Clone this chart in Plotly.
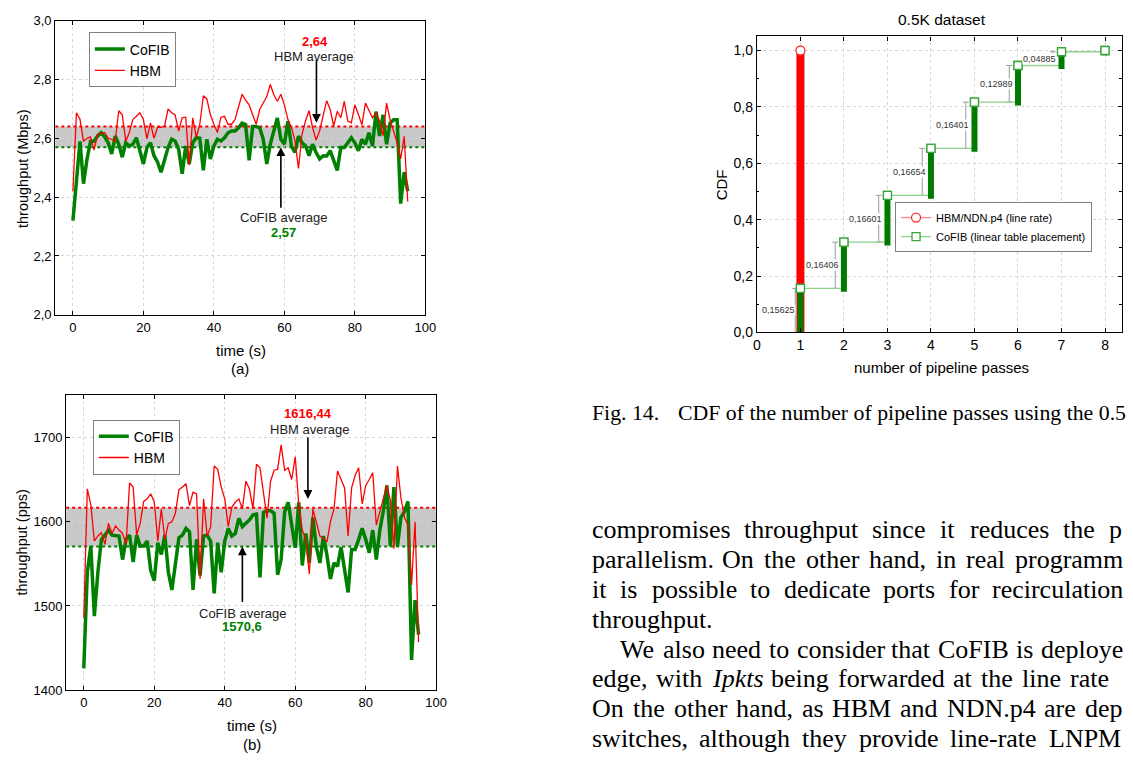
import plotly.graph_objects as go

W, H = 1133, 761

# ---------------- data ----------------
time_s = list(range(96))

cofib_mbps = [2.32, 2.47, 2.59, 2.446, 2.53, 2.59, 2.59, 2.608, 2.619, 2.605,
              2.585, 2.547, 2.608, 2.58, 2.536, 2.585, 2.574, 2.58, 2.602, 2.558,
              2.513, 2.569, 2.585, 2.541, 2.52, 2.485, 2.525, 2.569, 2.597, 2.591,
              2.563, 2.48, 2.574, 2.513, 2.585, 2.602, 2.6, 2.491, 2.597, 2.53,
              2.574, 2.597, 2.591, 2.602, 2.619, 2.625, 2.625, 2.636, 2.652, 2.647,
              2.525, 2.64, 2.64, 2.636, 2.597, 2.513, 2.58, 2.624, 2.669, 2.597,
              2.58, 2.658, 2.574, 2.552, 2.608, 2.585, 2.575, 2.541, 2.58, 2.552,
              2.53, 2.541, 2.54, 2.558, 2.525, 2.491, 2.569, 2.569, 2.585, 2.602,
              2.585, 2.558, 2.597, 2.58, 2.619, 2.574, 2.691, 2.608, 2.68, 2.58,
              2.652, 2.663, 2.663, 2.378, 2.485, 2.42]

hbm_mbps = [2.42, 2.687, 2.665, 2.59, 2.60, 2.605, 2.56, 2.614, 2.617, 2.62,
            2.60, 2.597, 2.59, 2.694, 2.68, 2.59, 2.62, 2.664, 2.675, 2.687,
            2.664, 2.598, 2.653, 2.60, 2.637, 2.637, 2.642, 2.70, 2.687, 2.68,
            2.625, 2.67, 2.672, 2.509, 2.67, 2.603, 2.648, 2.745, 2.734, 2.68,
            2.648, 2.62, 2.672, 2.675, 2.648, 2.648, 2.664, 2.703, 2.75, 2.73,
            2.714, 2.68, 2.648, 2.698, 2.72, 2.742, 2.783, 2.748, 2.726, 2.75,
            2.714, 2.664, 2.637, 2.592, 2.498, 2.614, 2.659, 2.694, 2.637, 2.594,
            2.626, 2.681, 2.728, 2.698, 2.642, 2.692, 2.67, 2.726, 2.659, 2.653,
            2.714, 2.681, 2.646, 2.72, 2.694, 2.67, 2.687, 2.659, 2.609, 2.72,
            2.663, 2.62, 2.585, 2.53, 2.607, 2.385]

cofib_pps = [1426, 1540, 1571, 1488, 1540, 1579, 1584, 1590, 1584, 1584,
             1583, 1555, 1579, 1584, 1552, 1584, 1571, 1571, 1577, 1542,
             1530, 1575, 1561, 1584, 1540, 1519, 1553, 1581, 1584, 1592,
             1588, 1519, 1579, 1536, 1583, 1584, 1577, 1515, 1575, 1540,
             1577, 1592, 1583, 1586, 1604, 1594, 1598, 1602, 1608, 1609,
             1534, 1611, 1613, 1613, 1610, 1537, 1555, 1612, 1623, 1594,
             1569, 1623, 1548, 1586, 1551, 1605, 1570, 1551, 1583, 1560,
             1532, 1551, 1547, 1570, 1545, 1516, 1567, 1567, 1579, 1592,
             1579, 1563, 1590, 1555, 1590, 1613, 1643, 1571, 1641, 1571,
             1605, 1612, 1624, 1436, 1507, 1466]

hbm_pps = [1486, 1639, 1620, 1577, 1583, 1587, 1573, 1598, 1586, 1595,
           1590, 1586, 1573, 1646, 1641, 1584, 1598, 1624, 1627, 1633,
           1623, 1577, 1615, 1579, 1598, 1600, 1610, 1638, 1641, 1645,
           1619, 1635, 1633, 1532, 1627, 1583, 1594, 1666, 1662, 1641,
           1627, 1594, 1617, 1623, 1627, 1615, 1648, 1639, 1615, 1668,
           1664, 1633, 1604, 1648, 1661, 1662, 1691, 1661, 1664, 1650,
           1677, 1620, 1590, 1578, 1538, 1615, 1600, 1583, 1580, 1576,
           1600, 1615, 1660, 1650, 1640, 1583, 1640, 1655, 1664, 1621,
           1643, 1650, 1658, 1596, 1612, 1630, 1643, 1625, 1568, 1666,
           1628, 1605, 1596, 1525, 1600, 1457]

hbm_avg_mbps, cofib_avg_mbps = 2.64, 2.57
hbm_avg_pps, cofib_avg_pps = 1616.44, 1570.6

passes = [1, 2, 3, 4, 5, 6, 7, 8]
cofib_pmf = [0.15625, 0.16406, 0.16601, 0.16654, 0.16401, 0.12989, 0.04885, 0.00439]
hbm_passes = [1]
hbm_cdf = [1.0]

# ---------------- helpers ----------------
def px(x):
    return x / W


def py(y):
    return 1 - y / H


def fmt(v):
    return str(v).replace(".", ",")


cofib_cdf = []
acc = 0.0
for p in cofib_pmf:
    acc += p
    cofib_cdf.append(min(acc, 1.0))
prev_cdf = [0.0] + cofib_cdf[:-1]

SANS = "Liberation Sans"
SERIF = "Liberation Serif"
GREEN = "#008000"
RED = "#ff0000"

fig = go.Figure()

# ---------------- plot (a) ----------------
fig.add_trace(go.Scatter(x=time_s, y=cofib_mbps, mode="lines", name="CoFIB",
                         line=dict(color=GREEN, width=3.5), xaxis="x", yaxis="y",
                         legend="legend"))
fig.add_trace(go.Scatter(x=time_s, y=hbm_mbps, mode="lines", name="HBM",
                         line=dict(color=RED, width=1.3), xaxis="x", yaxis="y",
                         legend="legend"))

# ---------------- plot (b) ----------------
fig.add_trace(go.Scatter(x=time_s, y=cofib_pps, mode="lines", name="CoFIB",
                         line=dict(color=GREEN, width=3.5), xaxis="x2", yaxis="y2",
                         legend="legend2"))
fig.add_trace(go.Scatter(x=time_s, y=hbm_pps, mode="lines", name="HBM",
                         line=dict(color=RED, width=1.3), xaxis="x2", yaxis="y2",
                         legend="legend2"))

# ---------------- CDF plot ----------------
LIGHT_GREEN = "#8fd18f"
DARK_GREEN = "#007a00"
MARK_GREEN = "#3aa63a"

bracket_off = [0.12] + [0.2] * 6
fig.add_trace(go.Scatter(
    x=[passes[i] - bracket_off[i] for i in range(7)], y=prev_cdf[:7],
    mode="markers", marker=dict(size=1, opacity=0), showlegend=False,
    error_y=dict(type="data", symmetric=False, array=cofib_pmf[:7],
                 arrayminus=[0] * 7, color="#9a9a9a", thickness=1, width=3),
    xaxis="x3", yaxis="y3", hoverinfo="skip"))

fig.add_trace(go.Scatter(x=[hbm_passes[0], hbm_passes[0]], y=[0, hbm_cdf[0]],
                         mode="lines", line=dict(color=RED, width=8),
                         showlegend=False, xaxis="x3", yaxis="y3"))
fig.add_trace(go.Scatter(x=hbm_passes, y=hbm_cdf, mode="lines+markers",
                         name="HBM/NDN.p4 (line rate)",
                         line=dict(color="#ff8a8a", width=1.3),
                         marker=dict(symbol="circle", size=9, color="white",
                                     line=dict(color="#ff3030", width=1.3)),
                         xaxis="x3", yaxis="y3", legend="legend3"))
fig.add_trace(go.Scatter(x=passes, y=cofib_cdf, mode="lines+markers",
                         name="CoFIB (linear table placement)",
                         line=dict(color=LIGHT_GREEN, width=1.3, shape="hv"),
                         marker=dict(symbol="square", size=8, color="white",
                                     line=dict(color=MARK_GREEN, width=1.3)),
                         xaxis="x3", yaxis="y3", legend="legend3"))
bx, by = [], []
for k, lo, hi in zip(passes, prev_cdf, cofib_cdf):
    bx += [k, k, None]
    by += [max(lo - 0.012, 0), hi, None]
fig.add_trace(go.Scatter(x=bx, y=by, mode="lines",
                         line=dict(color=DARK_GREEN, width=6),
                         showlegend=False, xaxis="x3", yaxis="y3"))
fig.add_trace(go.Scatter(x=passes, y=cofib_cdf, mode="markers",
                         marker=dict(symbol="square", size=8, color="white",
                                     line=dict(color=MARK_GREEN, width=1.3)),
                         showlegend=False, xaxis="x3", yaxis="y3"))

# ---------------- axes ----------------
axis_common = dict(showline=True, linecolor="black", linewidth=1.2, mirror="ticks",
                   ticks="inside", ticklen=4, tickcolor="black", tickwidth=1,
                   showgrid=True, gridcolor="#d6d6d6", griddash="dot", gridwidth=1,
                   zeroline=False, tickfont=dict(family=SANS, size=13, color="black"))

fig.update_layout(
    xaxis=dict(axis_common, domain=[px(52), px(427)], range=[-5, 100], dtick=20,
               tick0=0, anchor="y"),
    yaxis=dict(axis_common, domain=[py(314), py(14)], range=[2.0, 3.0], dtick=0.2,
               tick0=2.0, tickformat=".1f", anchor="x"),
    xaxis2=dict(axis_common, domain=[px(63), px(438)], range=[-5, 100], dtick=20,
                tick0=0, anchor="y2"),
    yaxis2=dict(axis_common, domain=[py(697), py(396)], range=[1400, 1750], dtick=100,
                tick0=1400, tickformat="d", anchor="x2"),
    xaxis3=dict(axis_common, domain=[px(763), 1.0], range=[0, 8.39], dtick=1,
                tick0=0, anchor="y3", tickfont=dict(family=SANS, size=14, color="black")),
    yaxis3=dict(axis_common, domain=[py(332), py(30)], range=[0, 1.05], dtick=0.2,
                tick0=0, tickformat=".1f", anchor="x3",
                tickfont=dict(family=SANS, size=14, color="black"),
                minor=dict(dtick=0.1, ticks="inside", ticklen=2.5, tickcolor="black",
                           showgrid=False)),
)

# ---------------- shapes (average bands) ----------------
shapes = []
for (yr, xr, lo, hi) in [("y", "x", cofib_avg_mbps, hbm_avg_mbps),
                         ("y2", "x2", cofib_avg_pps, hbm_avg_pps)]:
    shapes.append(dict(type="rect", xref=xr + " domain", yref=yr, x0=0, x1=1,
                       y0=lo, y1=hi, fillcolor="#c8c8c8", line=dict(width=0),
                       layer="below"))
    shapes.append(dict(type="line", xref=xr + " domain", yref=yr, x0=0, x1=1,
                       y0=hi, y1=hi, line=dict(color=RED, width=2, dash="dot"),
                       layer="below"))
    shapes.append(dict(type="line", xref=xr + " domain", yref=yr, x0=0, x1=1,
                       y0=lo, y1=lo, line=dict(color=GREEN, width=2, dash="dot"),
                       layer="below"))

# ---------------- annotations ----------------
ann = []


def ptext(text, x, y, size, color="black", angle=0, family=SANS, xanchor="center",
          yanchor="middle"):
    ann.append(dict(text=text, x=px(x), y=py(y), xref="paper", yref="paper",
                    showarrow=False, textangle=angle, xanchor=xanchor, yanchor=yanchor,
                    font=dict(family=family, size=size, color=color)))


ptext("throughput (Mbps)", 18.5, 165, 14.5, angle=-90)
ptext("time (s)", 240, 350, 15)
ptext("(a)", 239, 369, 15)
ptext("throughput (pps)", 18.5, 546, 14.5, angle=-90)
ptext("time (s)", 251, 733, 15)
ptext("(b)", 251.7, 752, 15)
ptext("0.5K dataset", 951, 12.5, 15.5)
ptext("CDF", 727.5, 181, 15, angle=-90)
ptext("number of pipeline passes", 950.5, 368, 15)

ptext("<b>" + fmt(hbm_avg_mbps) + "</b>", 315, 35, 13, color=RED)
ptext("HBM average", 313.5, 50, 13, color="#222222")
ptext("CoFIB average", 283.5, 215, 13, color="#222222")
ptext("<b>" + fmt(cofib_avg_mbps) + "</b>", 283.5, 230.5, 13, color=GREEN)
ptext("<b>" + fmt(hbm_avg_pps) + "</b>", 308.5, 415, 13, color=RED)
ptext("HBM average", 309.5, 431, 13, color="#222222")
ptext("CoFIB average", 241.5, 618.5, 13, color="#222222")
ptext("<b>" + fmt(cofib_avg_pps) + "</b>", 241.5, 631.5, 13, color=GREEN)

for (xr, yr, x, y, ay) in [("x", "y", 69.1, 2.653, -64),
                           ("x", "y", 59.0, cofib_avg_mbps, 62),
                           ("x2", "y2", 63.6, 1627, -63),
                           ("x2", "y2", 45.0, cofib_avg_pps, 57)]:
    ann.append(dict(text="", x=x, y=y, xref=xr, yref=yr, ax=0, ay=ay,
                    showarrow=True, arrowhead=2, arrowsize=1.1, arrowwidth=1.6,
                    arrowcolor="black"))

for i in range(7):
    ann.append(dict(text=fmt(cofib_pmf[i]), x=passes[i] - 0.5,
                    y=(prev_cdf[i] + cofib_cdf[i]) / 2, xref="x3", yref="y3",
                    showarrow=False, bgcolor="white", borderpad=0,
                    font=dict(family=SANS, size=9, color="#333333")))

# ---------------- paper text (caption + body, cropped as in the page) ----------------
ptext("Fig. 14.", 594, 414.5, 21.8, family=SERIF, xanchor="left")
ptext("CDF of the number of pipeline passes using the 0.5", 681.5, 414.5,
      21.8, family=SERIF, xanchor="left")

body_lines = [
    (533.0, [("compromises", 595.8), ("throughput", 750.0), ("since", 879.6),
             ("it", 948.5), ("reduces", 978.5), ("the", 1073.4), ("p", 1119.5)]),
    (563.5, [("parallelism.", 595.8), ("On", 728.0), ("the", 770.3), ("other", 812.6),
             ("hand,", 876.5), ("in", 944.0), ("real", 974.7), ("programm", 1024.2)]),
    (594.0, [("it", 595.8), ("is", 624.6), ("possible", 656.2), ("to", 755.7),
             ("dedicate", 790.2), ("ports", 891.1), ("for", 957.4),
             ("recirculation", 1001.5)]),
    (624.5, [("throughput.", 595.8)]),
    (655.0, [("We", 623.9), ("also", 668.0), ("need", 717.9), ("to", 775.0),
             ("consider", 803.2), ("that", 899.3), ("CoFIB", 946.3), ("is", 1025.1),
             ("deploye", 1050.4)]),
    (685.5, [("edge,", 595.8), ("with", 661.2), ("<i>Ipkts</i>", 717.2),
             ("being", 777.5), ("forwarded", 845.1), ("at", 961.7), ("the", 990.3),
             ("line", 1031.9), ("rate", 1080.7)]),
    (716.0, [("On", 595.8), ("the", 637.2), ("other", 678.6), ("hand,", 741.6),
             ("as", 808.2), ("HBM", 839.5), ("and", 908.3), ("NDN.p4", 955.4),
             ("are", 1053.8), ("dep", 1095.1)]),
    (746.3, [("switches,", 595.8), ("although", 704.8), ("they", 808.8),
             ("provide", 866.6), ("line-rate", 959.0), ("LNPM", 1058.6)]),
]
for yline, words in body_lines:
    for w, xw in words:
        ptext(w, xw - 2, yline, 26, family=SERIF, xanchor="left")

# ---------------- legends & layout ----------------
leg_common = dict(bgcolor="white", bordercolor="#808080", borderwidth=1,
                  xanchor="left", yanchor="top", tracegroupgap=0, itemwidth=30)

fig.update_layout(
    width=W, height=H, autosize=False,
    margin=dict(l=0, r=0, t=0, b=0, pad=0),
    paper_bgcolor="white", plot_bgcolor="white",
    separators=",.",
    shapes=shapes,
    annotations=ann,
    font=dict(family=SANS, color="black"),
    legend=dict(leg_common, x=px(86), y=py(26),
                font=dict(family=SANS, size=14, color="black")),
    legend2=dict(leg_common, x=px(90), y=py(421),
                 font=dict(family=SANS, size=14, color="black")),
    legend3=dict(leg_common, x=px(903), y=py(199),
                 font=dict(family=SANS, size=11, color="black")),
    hovermode=False,
)

fig.write_html("out.html")
